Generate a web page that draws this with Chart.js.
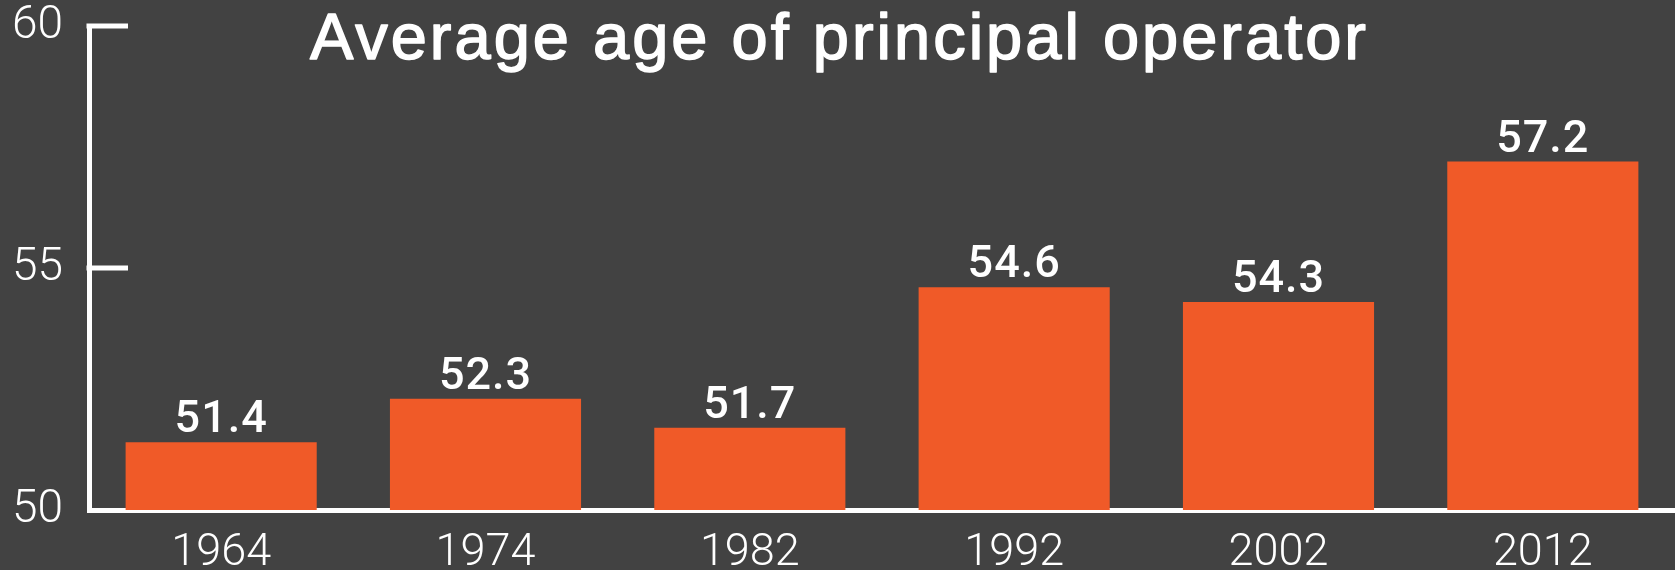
<!DOCTYPE html>
<html>
<head>
<meta charset="utf-8">
<script src="https://cdn.jsdelivr.net/npm/chart.js@4/dist/chart.umd.min.js"></script>
<style>
  html, body { margin: 0; padding: 0; background: #424242; }
  #wrap { width: 1675px; height: 570px; }
</style>
</head>
<body>
<div id="wrap"><canvas id="ageChart"></canvas></div>
<script>
// Données du graphique
const years = ['1964', '1974', '1982', '1992', '2002', '2012'];
const avgAge = [51.4, 52.3, 51.7, 54.6, 54.3, 57.2];
const yTicks = [50, 55, 60];
const chartTitle = 'Average age of principal operator';

const barColor = '#f05a28';
const textColor = '#ffffff';

// Titre dessiné dans la zone du graphique (il chevauche le haut de l'axe)
const titlePlugin = {
    id: 'titleInside',
    afterDraw(chart) {
        const ctx = chart.ctx;
        ctx.save();
        ctx.fillStyle = textColor;
        ctx.strokeStyle = textColor;
        ctx.lineWidth = 1.5;
        ctx.lineJoin = 'round';
        ctx.font = '65px "Liberation Sans", Arial, sans-serif';
        ctx.letterSpacing = '3px';
        ctx.textAlign = 'center';
        ctx.textBaseline = 'alphabetic';
        ctx.fillText(chartTitle, chart.width / 2 + 2, 59);
        ctx.strokeText(chartTitle, chart.width / 2 + 2, 59);
        ctx.restore();
    }
};

// Petits traits de graduation tournés vers l'intérieur
const innerTicks = {
    id: 'innerTicks',
    afterDraw(chart) {
        const ctx = chart.ctx;
        const y = chart.scales.y;
        const left = chart.chartArea.left;
        ctx.save();
        ctx.strokeStyle = textColor;
        ctx.lineWidth = 5;
        yTicks.slice(1).forEach(v => {
            const py = y.getPixelForValue(v);
            ctx.beginPath();
            ctx.moveTo(left - 2.5, py);
            ctx.lineTo(left + 39, py);
            ctx.stroke();
        });
        ctx.restore();
    }
};

// Valeurs au-dessus des barres
const valueLabels = {
    id: 'valueLabels',
    afterDatasetsDraw(chart) {
        const ctx = chart.ctx;
        const meta = chart.getDatasetMeta(0);
        ctx.save();
        ctx.fillStyle = textColor;
        ctx.font = '500 45px Roboto, sans-serif';
        ctx.letterSpacing = '1px';
        ctx.textAlign = 'center';
        ctx.textBaseline = 'alphabetic';
        meta.data.forEach((bar, i) => {
            ctx.fillText(avgAge[i].toFixed(1), bar.x, bar.y - 10);
        });
        ctx.restore();
    }
};

const ctx = document.getElementById('ageChart').getContext('2d');
new Chart(ctx, {
    type: 'bar',
    data: {
        labels: years,
        datasets: [{
            label: 'Average age',
            data: avgAge,
            backgroundColor: barColor,
            borderWidth: 0,
            categoryPercentage: 1,
            barPercentage: 0.723
        }]
    },
    options: {
        responsive: true,
        maintainAspectRatio: false,
        animation: false,
        events: [],
        layout: { padding: { top: 26, left: 0, right: 0, bottom: 0 } },
        plugins: {
            legend: { display: false },
            title: { display: false },
            tooltip: { enabled: false }
        },
        scales: {
            x: {
                z: 1,
                grid: { display: false, drawTicks: false },
                border: { display: true, color: textColor, width: 5 },
                ticks: {
                    color: textColor,
                    padding: 21,
                    font: { family: 'Roboto', size: 45, weight: 300, lineHeight: 1 }
                },
                afterFit(scale) { scale.height = 60; }
            },
            y: {
                min: 50,
                max: 60,
                afterBuildTicks(scale) {
                    scale.ticks = yTicks.map(v => ({ value: v }));
                },
                grid: { display: false, drawTicks: false },
                border: { display: true, color: textColor, width: 5 },
                ticks: {
                    color: textColor,
                    padding: 26,
                    font: { family: 'Roboto', size: 46, weight: 300, lineHeight: 1 }
                },
                afterFit(scale) {
                    scale.width = 89;
                    scale.paddingTop = 0;
                    scale.paddingBottom = 0;
                }
            }
        }
    },
    plugins: [titlePlugin, innerTicks, valueLabels]
});
</script>
</body>
</html>
